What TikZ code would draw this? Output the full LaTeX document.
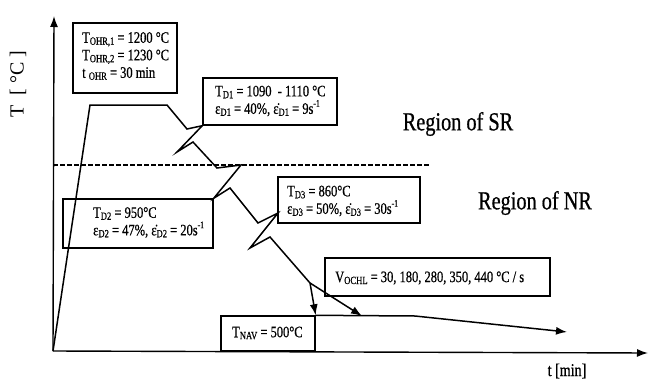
\documentclass[tikz,border=0pt]{standalone}
\usepackage{fontspec}
\setmainfont{Liberation Serif}
\newfontfamily\cond[FakeStretch=0.78,FakeBold=0.6]{Liberation Serif}
\usetikzlibrary{arrows.meta}
\newcommand\sbx[1]{\raisebox{-0.12em}{\fontsize{11}{11}\selectfont #1}}
\newcommand\spx[1]{\raisebox{0.45em}{\fontsize{10}{10}\selectfont #1}}
\newcommand\edot{ε̇}
\tikzset{
  box/.style={draw, line width=1.4pt, inner sep=0pt},
  btxt/.style={anchor=west, align=left, inner sep=0pt, font=\cond\fontsize{16}{17.5}\selectfont},
  crv/.style={line width=1.5pt, line join=miter},
  arr/.style={-{Latex[length=11pt,width=8pt]}},
  big/.style={font=\cond\fontsize{26}{28}\selectfont},
}
\begin{document}
\begin{tikzpicture}[x=1pt,y=-1pt]
\useasboundingbox (0,0) rectangle (649,389);
% axes
\coordinate (O) at (53,351);
\coordinate (ytip) at (54,16);
\coordinate (xtip) at (648,353);
\draw[line width=1.4pt, arr] (O) -- (ytip);
\draw[line width=1.4pt, arr] (O) -- (xtip);
\node[font=\fontsize{20}{22}\selectfont, rotate=90] (ylab) at (18,84) {T~~[~°C~]};
\node[font=\cond\fontsize{18}{20}\selectfont] (xlab) at (567,371) {t [min]};
% dashed boundary
\coordinate (d1) at (53,165);
\coordinate (d2) at (430,165);
\draw[dashed, line width=1.3pt, dash pattern=on 5pt off 2pt] (d1) -- (d2);
% boxes
\node[box, minimum width=104pt, minimum height=70pt] (tohr) at (125,58) {};
\node[box, minimum width=134pt, minimum height=47pt] (td1) at (270,101.5) {};
\node[box, minimum width=150pt, minimum height=49pt] (td2) at (138,223.5) {};
\node[box, minimum width=142pt, minimum height=46pt] (td3) at (349,200) {};
\node[box, minimum width=225pt, minimum height=38pt] (vb) at (437.5,277) {};
\node[box, minimum width=94pt, minimum height=35pt] (tnav) at (268,333.5) {};
% box texts
\node[btxt] (tohrT) at (82,56) {T\sbx{OHR,1} = 1200 °C\\T\sbx{OHR,2} = 1230 °C\\t \sbx{OHR} = 30 min};
\node[btxt] (td1T) at (215,101) {T\sbx{D1} = 1090 \ - 1110 °C\\ε\sbx{D1} = 40\%, \edot\sbx{D1} = 9s\spx{-1}};
\node[btxt] (td2T) at (93,222.5) {T\sbx{D2} = 950°C\\ε\sbx{D2} = 47\%, \edot\sbx{D2} = 20s\spx{-1}};
\node[btxt] (td3T) at (287,201) {T\sbx{D3} = 860°C\\ε\sbx{D3} = 50\%, \edot\sbx{D3} = 30s\spx{-1}};
\node[btxt] (vT) at (335,278) {V\sbx{OCHL} = 30, 180, 280, 350, 440 °C / s};
\node[btxt] (tnavT) at (232,333) {T\sbx{NAV} = 500°C};
% regions
\node[big] (sr) at (458,124) {Region of SR};
\node[big] (nr) at (535,203) {Region of NR};
% curve
\coordinate (H) at (90,105);
\coordinate (P) at (167,105);
\coordinate (A1) at (187,129);
\coordinate (C1) at (177,152);
\coordinate (D1) at (193,142);
\coordinate (A2) at (217,168);
\coordinate (B2) at (241,165);
\coordinate (D2) at (230,188);
\coordinate (A3) at (258,223);
\coordinate (B3) at (278,213);
\coordinate (C3) at (250,248);
\coordinate (D3) at (270,237);
\coordinate (Q) at (310,283);
\coordinate (V2) at (362,316);
\coordinate (K) at (415,316);
\coordinate (E) at (567,332);
\draw[crv] (O) -- (H) -- (P) -- (A1) -- (td1.south west) -- (C1) -- (D1) -- (A2) -- (B2) -- (td2.north east) -- (D2) -- (A3) -- (B3) -- (C3) -- (D3) -- (Q);
\draw[crv, arr] (Q) -- (tnav.north east);
\draw[crv, arr] (Q) -- (V2);
\draw[crv, arr] (tnav.north east) -- (K) -- (E);
\end{tikzpicture}
\end{document}
